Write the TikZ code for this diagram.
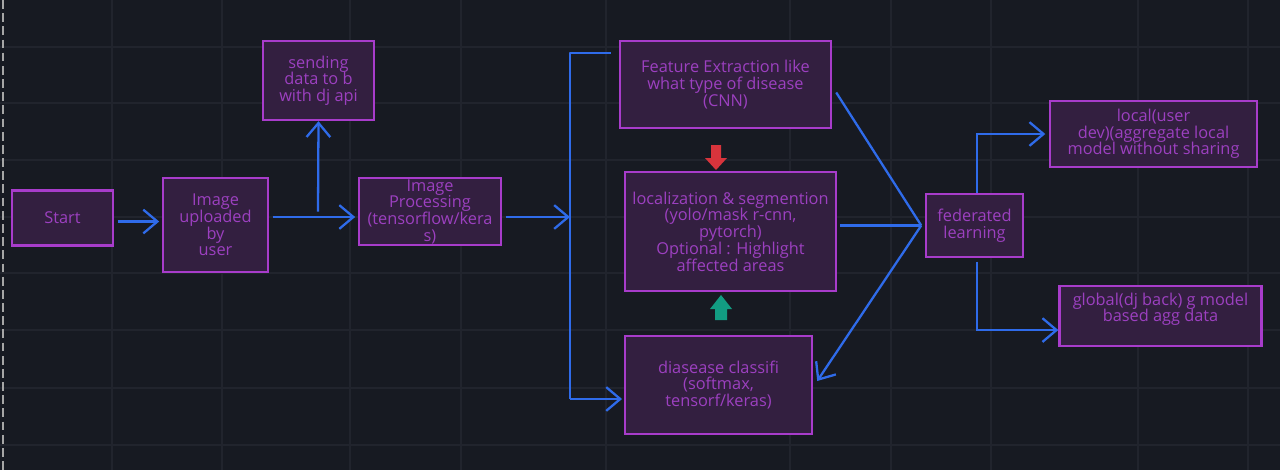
\documentclass[tikz,border=0pt]{standalone}
\usepackage{fontspec}
\setmainfont{Open Sans}
\usetikzlibrary{arrows.meta, positioning, calc}
\definecolor{bgdark}{HTML}{171A22}
\definecolor{gridline}{HTML}{21242D}
\definecolor{boxedge}{HTML}{A83CCB}
\definecolor{boxfill}{HTML}{331F40}
\definecolor{boxtext}{HTML}{9C40C0}
\definecolor{flowblue}{HTML}{2F6BEA}
\definecolor{redmark}{HTML}{D8343C}
\definecolor{greenmark}{HTML}{129C82}
\tikzset{
  box/.style={draw=boxedge, fill=boxfill, line width=1.4pt, text=boxtext, align=center,
    inner sep=0pt, font=\fontsize{9.3}{9.5}\selectfont},
  link/.style={draw=flowblue, line width=1.3pt},
  arr/.style={link, -{Straight Barb[length=8pt,width=13.5pt]}},
}

\begin{document}
\begin{tikzpicture}[x=0.02cm, y=-0.02cm]
% canvas
\fill[bgdark] (0,0) rectangle (1280,470);
\useasboundingbox (0,0) rectangle (1280,470);
\foreach \gx in {112,222,350,461,606,790,891,991,1138,1248} {
    \draw[gridline, line width=0.6pt] (\gx,0) -- (\gx,470);
}
\foreach \gy in {47,103,160,217,273,330,388,445} {
    \draw[gridline, line width=0.6pt] (0,\gy) -- (1280,\gy);
}
\draw[gray!70, line width=0.8pt, dash pattern=on 5pt off 2.5pt] (3,0) -- (3,470);

% boxes
\node[box, minimum width=2.02cm, minimum height=1.10cm] (start) at (62.5,218) {Start};
\node[box, minimum width=2.10cm, minimum height=1.88cm] (upload) at (215.5,225) {Image\\uploaded\\by\\user};
\node[box, minimum width=2.22cm, minimum height=1.58cm] (send) at (318.5,80.5) {sending\\data to b\\with dj api};
\node[box, minimum width=2.84cm, minimum height=1.34cm] (proc) at (430,211.5) {Image\\Processing\\(tensorflow/kera\\s)};
\node[box, minimum width=4.22cm, minimum height=1.74cm] (feat) at (725.5,84.5) {Feature Extraction like\\what type of disease\\(CNN)};
\node[box, minimum width=4.22cm, minimum height=2.38cm] (loc) at (730.5,231.5) {localization \& segmention\\(yolo/mask r-cnn,\\pytorch)\\Optional : Highlight\\affected areas};
\node[box, minimum width=3.74cm, minimum height=1.96cm] (cls) at (718.5,385) {diasease classifi\\(softmax,\\tensorf/keras)};
\node[box, minimum width=1.94cm, minimum height=1.26cm] (fed) at (974.5,225.5) {federated\\learning};
\node[box, minimum width=4.14cm, minimum height=1.32cm] (local) at (1153.5,134) {local(user\\dev)(aggregate local\\model without sharing};
\node[box, minimum width=4.04cm, minimum height=1.20cm, text depth=10pt] (glob) at (1160.5,316) {global(dj back) g model\\based agg data};

% junctions
\coordinate (split) at (318,217);
\coordinate (bustop) at (570,53);
\coordinate (busbot) at (570,399);

% flow
\draw[arr, shorten <=2pt, shorten >=1.5pt] ([yshift=-2pt]start.east) -- ([yshift=-2pt]start.east -| upload.west);
\draw[arr, shorten <=2pt, shorten >=1.5pt] (upload.east |- split) -- (proc.west |- split);
\draw[arr] ([yshift=3pt]split) -- (send.south);
\draw[arr, shorten <=2pt] (proc.east |- split) -- (proc.east |- split -| bustop);
\draw[link, line join=round] ([xshift=-4.5pt]feat.west |- bustop) -- (bustop) -- (busbot);
\draw[arr, shorten >=1pt] (busbot) -- (cls.west |- busbot);

% red / green markers
\fill[redmark] (711,145) -- (721,145) -- (721,158) -- (727,158) -- (716,170) -- (705,158) -- (711,158) -- cycle;
\fill[greenmark] (721,295) -- (732,309) -- (727,309) -- (727,320) -- (715,320) -- (715,309) -- (710,309) -- cycle;

% into federated learning
\coordinate (meet) at ([xshift=-2pt]fed.west);
\draw[link] ([shift={(4,8)}]feat.east) -- (meet);
\draw[link] ([shift={(3,-6)}]loc.east) -- (meet);
\draw[arr] (meet) -- ([shift={(4,-4)}]cls.east);

% out of federated learning
\draw[arr, shorten >=2pt] ([xshift=1.5pt]fed.north) |- (local.west);
\draw[arr, shorten <=2pt] ([xshift=1.5pt]fed.south) |- ([yshift=-8pt]glob.west);
\end{tikzpicture}
\end{document}
